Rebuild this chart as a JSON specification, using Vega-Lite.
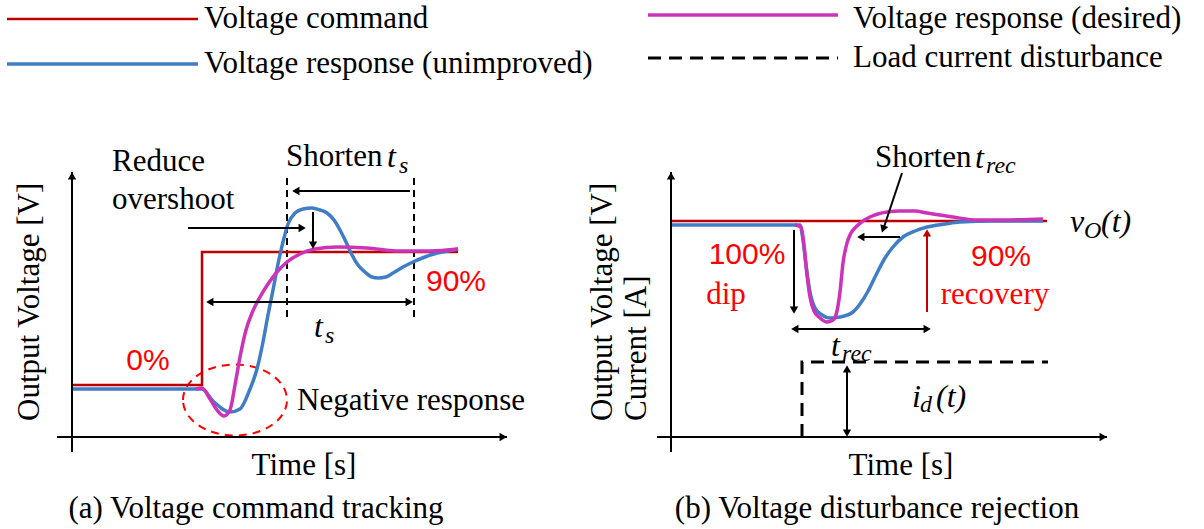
{
  "$schema": "https://vega.github.io/schema/vega-lite/v6.json",
  "width": 1204,
  "height": 529,
  "autosize": {"type": "fit", "contains": "padding"},
  "padding": 0,
  "background": "white",
  "config": {"view": {"stroke": null}},
  "datasets": {
    "traces": [
      {"trace": "command", "part": "legend", "k": 0, "x": 7, "y": 19},
      {"trace": "command", "part": "legend", "k": 1, "x": 198, "y": 19},
      {"trace": "command", "part": "a", "k": 0, "x": 72, "y": 385},
      {"trace": "command", "part": "a", "k": 1, "x": 202, "y": 385},
      {"trace": "command", "part": "a", "k": 2, "x": 202, "y": 252},
      {"trace": "command", "part": "a", "k": 3, "x": 458, "y": 252},
      {"trace": "command", "part": "b", "k": 0, "x": 671, "y": 221},
      {"trace": "command", "part": "b", "k": 1, "x": 1047, "y": 221},

      {"trace": "unimproved", "part": "legend", "k": 0, "x": 7, "y": 64},
      {"trace": "unimproved", "part": "legend", "k": 1, "x": 198, "y": 64},
      {"trace": "unimproved", "part": "a", "k": 0, "x": 72, "y": 389},
      {"trace": "unimproved", "part": "a", "k": 1, "x": 202, "y": 389},
      {"trace": "unimproved", "part": "a", "k": 2, "x": 213, "y": 401},
      {"trace": "unimproved", "part": "a", "k": 3, "x": 230, "y": 412},
      {"trace": "unimproved", "part": "a", "k": 4, "x": 240, "y": 409},
      {"trace": "unimproved", "part": "a", "k": 5, "x": 250, "y": 389},
      {"trace": "unimproved", "part": "a", "k": 6, "x": 257, "y": 369},
      {"trace": "unimproved", "part": "a", "k": 7, "x": 263, "y": 342},
      {"trace": "unimproved", "part": "a", "k": 8, "x": 268, "y": 315},
      {"trace": "unimproved", "part": "a", "k": 9, "x": 273, "y": 290},
      {"trace": "unimproved", "part": "a", "k": 10, "x": 278, "y": 264},
      {"trace": "unimproved", "part": "a", "k": 11, "x": 283, "y": 242},
      {"trace": "unimproved", "part": "a", "k": 12, "x": 288, "y": 224},
      {"trace": "unimproved", "part": "a", "k": 13, "x": 295, "y": 213},
      {"trace": "unimproved", "part": "a", "k": 14, "x": 303, "y": 209},
      {"trace": "unimproved", "part": "a", "k": 15, "x": 312, "y": 208},
      {"trace": "unimproved", "part": "a", "k": 16, "x": 320, "y": 210},
      {"trace": "unimproved", "part": "a", "k": 17, "x": 327, "y": 213},
      {"trace": "unimproved", "part": "a", "k": 18, "x": 334, "y": 220},
      {"trace": "unimproved", "part": "a", "k": 19, "x": 340, "y": 230},
      {"trace": "unimproved", "part": "a", "k": 20, "x": 346, "y": 242},
      {"trace": "unimproved", "part": "a", "k": 21, "x": 352, "y": 255},
      {"trace": "unimproved", "part": "a", "k": 22, "x": 358, "y": 265},
      {"trace": "unimproved", "part": "a", "k": 23, "x": 365, "y": 272},
      {"trace": "unimproved", "part": "a", "k": 24, "x": 372, "y": 277},
      {"trace": "unimproved", "part": "a", "k": 25, "x": 378, "y": 278},
      {"trace": "unimproved", "part": "a", "k": 26, "x": 386, "y": 277},
      {"trace": "unimproved", "part": "a", "k": 27, "x": 393, "y": 273},
      {"trace": "unimproved", "part": "a", "k": 28, "x": 403, "y": 267},
      {"trace": "unimproved", "part": "a", "k": 29, "x": 413, "y": 262},
      {"trace": "unimproved", "part": "a", "k": 30, "x": 425, "y": 257},
      {"trace": "unimproved", "part": "a", "k": 31, "x": 437, "y": 253},
      {"trace": "unimproved", "part": "a", "k": 32, "x": 448, "y": 251},
      {"trace": "unimproved", "part": "a", "k": 33, "x": 458, "y": 249},
      {"trace": "unimproved", "part": "b", "k": 0, "x": 671, "y": 225},
      {"trace": "unimproved", "part": "b", "k": 1, "x": 800, "y": 225},
      {"trace": "unimproved", "part": "b", "k": 2, "x": 803, "y": 240},
      {"trace": "unimproved", "part": "b", "k": 3, "x": 806, "y": 265},
      {"trace": "unimproved", "part": "b", "k": 4, "x": 810, "y": 292},
      {"trace": "unimproved", "part": "b", "k": 5, "x": 815, "y": 308},
      {"trace": "unimproved", "part": "b", "k": 6, "x": 822, "y": 315},
      {"trace": "unimproved", "part": "b", "k": 7, "x": 830, "y": 318},
      {"trace": "unimproved", "part": "b", "k": 8, "x": 840, "y": 317},
      {"trace": "unimproved", "part": "b", "k": 9, "x": 853, "y": 312},
      {"trace": "unimproved", "part": "b", "k": 10, "x": 860, "y": 304},
      {"trace": "unimproved", "part": "b", "k": 11, "x": 867, "y": 293},
      {"trace": "unimproved", "part": "b", "k": 12, "x": 877, "y": 273},
      {"trace": "unimproved", "part": "b", "k": 13, "x": 885, "y": 258},
      {"trace": "unimproved", "part": "b", "k": 14, "x": 893, "y": 247},
      {"trace": "unimproved", "part": "b", "k": 15, "x": 903, "y": 237},
      {"trace": "unimproved", "part": "b", "k": 16, "x": 915, "y": 231},
      {"trace": "unimproved", "part": "b", "k": 17, "x": 927, "y": 227},
      {"trace": "unimproved", "part": "b", "k": 18, "x": 945, "y": 224},
      {"trace": "unimproved", "part": "b", "k": 19, "x": 960, "y": 222},
      {"trace": "unimproved", "part": "b", "k": 20, "x": 993, "y": 221},
      {"trace": "unimproved", "part": "b", "k": 21, "x": 1043, "y": 221},

      {"trace": "desired", "part": "legend", "k": 0, "x": 648, "y": 15},
      {"trace": "desired", "part": "legend", "k": 1, "x": 838, "y": 15},
      {"trace": "desired", "part": "a", "k": 0, "x": 196, "y": 389},
      {"trace": "desired", "part": "a", "k": 1, "x": 202, "y": 388},
      {"trace": "desired", "part": "a", "k": 2, "x": 210, "y": 399},
      {"trace": "desired", "part": "a", "k": 3, "x": 217, "y": 410},
      {"trace": "desired", "part": "a", "k": 4, "x": 224, "y": 416},
      {"trace": "desired", "part": "a", "k": 5, "x": 230, "y": 410},
      {"trace": "desired", "part": "a", "k": 6, "x": 235, "y": 385},
      {"trace": "desired", "part": "a", "k": 7, "x": 240, "y": 357},
      {"trace": "desired", "part": "a", "k": 8, "x": 246, "y": 330},
      {"trace": "desired", "part": "a", "k": 9, "x": 252, "y": 313},
      {"trace": "desired", "part": "a", "k": 10, "x": 260, "y": 297},
      {"trace": "desired", "part": "a", "k": 11, "x": 268, "y": 284},
      {"trace": "desired", "part": "a", "k": 12, "x": 277, "y": 272},
      {"trace": "desired", "part": "a", "k": 13, "x": 287, "y": 262},
      {"trace": "desired", "part": "a", "k": 14, "x": 300, "y": 254},
      {"trace": "desired", "part": "a", "k": 15, "x": 315, "y": 249},
      {"trace": "desired", "part": "a", "k": 16, "x": 337, "y": 247},
      {"trace": "desired", "part": "a", "k": 17, "x": 367, "y": 248},
      {"trace": "desired", "part": "a", "k": 18, "x": 400, "y": 251},
      {"trace": "desired", "part": "a", "k": 19, "x": 430, "y": 251},
      {"trace": "desired", "part": "a", "k": 20, "x": 458, "y": 249},
      {"trace": "desired", "part": "b", "k": 0, "x": 795, "y": 225},
      {"trace": "desired", "part": "b", "k": 1, "x": 801, "y": 227},
      {"trace": "desired", "part": "b", "k": 2, "x": 804, "y": 245},
      {"trace": "desired", "part": "b", "k": 3, "x": 807, "y": 275},
      {"trace": "desired", "part": "b", "k": 4, "x": 810, "y": 297},
      {"trace": "desired", "part": "b", "k": 5, "x": 814, "y": 311},
      {"trace": "desired", "part": "b", "k": 6, "x": 820, "y": 318},
      {"trace": "desired", "part": "b", "k": 7, "x": 827, "y": 322},
      {"trace": "desired", "part": "b", "k": 8, "x": 833, "y": 320},
      {"trace": "desired", "part": "b", "k": 9, "x": 837, "y": 311},
      {"trace": "desired", "part": "b", "k": 10, "x": 840, "y": 292},
      {"trace": "desired", "part": "b", "k": 11, "x": 843, "y": 263},
      {"trace": "desired", "part": "b", "k": 12, "x": 847, "y": 243},
      {"trace": "desired", "part": "b", "k": 13, "x": 851, "y": 233},
      {"trace": "desired", "part": "b", "k": 14, "x": 857, "y": 226},
      {"trace": "desired", "part": "b", "k": 15, "x": 863, "y": 221},
      {"trace": "desired", "part": "b", "k": 16, "x": 870, "y": 217},
      {"trace": "desired", "part": "b", "k": 17, "x": 887, "y": 212},
      {"trace": "desired", "part": "b", "k": 18, "x": 900, "y": 211},
      {"trace": "desired", "part": "b", "k": 19, "x": 915, "y": 211},
      {"trace": "desired", "part": "b", "k": 20, "x": 927, "y": 213},
      {"trace": "desired", "part": "b", "k": 21, "x": 953, "y": 217},
      {"trace": "desired", "part": "b", "k": 22, "x": 977, "y": 220},
      {"trace": "desired", "part": "b", "k": 23, "x": 1000, "y": 220},
      {"trace": "desired", "part": "b", "k": 24, "x": 1043, "y": 219},

      {"trace": "disturbance", "part": "legend", "k": 0, "x": 648, "y": 58},
      {"trace": "disturbance", "part": "legend", "k": 1, "x": 838, "y": 58},
      {"trace": "disturbance", "part": "b", "k": 0, "x": 802, "y": 437},
      {"trace": "disturbance", "part": "b", "k": 1, "x": 802, "y": 362},
      {"trace": "disturbance", "part": "b", "k": 2, "x": 1048, "y": 362}
    ],
    "arrowShafts": [
      {"x": 72, "y": 452, "x2": 72, "y2": 172},
      {"x": 57, "y": 437, "x2": 507, "y2": 437},
      {"x": 671, "y": 452, "x2": 671, "y2": 172},
      {"x": 657, "y": 437, "x2": 1107, "y2": 437},
      {"x": 188, "y": 228, "x2": 303, "y2": 228},
      {"x": 410, "y": 191, "x2": 295, "y2": 191},
      {"x": 313, "y": 212, "x2": 313, "y2": 246},
      {"x": 209, "y": 302, "x2": 410, "y2": 302},
      {"x": 794, "y": 230, "x2": 794, "y2": 311},
      {"x": 794, "y": 329, "x2": 928, "y2": 329},
      {"x": 900, "y": 237, "x2": 860, "y2": 237},
      {"x": 902, "y": 173, "x2": 883, "y2": 230},
      {"x": 847, "y": 368, "x2": 847, "y2": 434}
    ],
    "arrowHeads": [
      {"x": 72, "y": 177, "heading": 0},
      {"x": 502, "y": 437, "heading": 90},
      {"x": 671, "y": 177, "heading": 0},
      {"x": 1102, "y": 437, "heading": 90},
      {"x": 301, "y": 228, "heading": 90},
      {"x": 297, "y": 191, "heading": 270},
      {"x": 313, "y": 244, "heading": 180},
      {"x": 211, "y": 302, "heading": 270},
      {"x": 408, "y": 302, "heading": 90},
      {"x": 794, "y": 309, "heading": 180},
      {"x": 796, "y": 329, "heading": 270},
      {"x": 926, "y": 329, "heading": 90},
      {"x": 862, "y": 237, "heading": 270},
      {"x": 883.5, "y": 228, "heading": 199},
      {"x": 847, "y": 370, "heading": 0},
      {"x": 847, "y": 432, "heading": 180}
    ],
    "recoveryShaft": [{"x": 927, "y": 312, "x2": 927, "y2": 232}],
    "recoveryHead": [{"x": 927, "y": 234, "heading": 0}],
    "settlingGuides": [
      {"x": 287, "y": 178, "x2": 287, "y2": 319},
      {"x": 414, "y": 178, "x2": 414, "y2": 319}
    ],
    "dipRegion": [{"x": 235, "y": 400}],
    "plainLeft": [
      {"x": 204, "y": 19, "text": "Voltage command"},
      {"x": 204, "y": 64, "text": "Voltage response (unimproved)"},
      {"x": 853, "y": 19, "text": "Voltage response (desired)"},
      {"x": 853, "y": 58, "text": "Load current disturbance"},
      {"x": 112, "y": 162, "text": "Reduce"},
      {"x": 112, "y": 200, "text": "overshoot"},
      {"x": 286, "y": 157, "text": "Shorten"},
      {"x": 875, "y": 158, "text": "Shorten"},
      {"x": 297, "y": 401, "text": "Negative response"}
    ],
    "plainCenter": [
      {"x": 304, "y": 466, "text": "Time [s]"},
      {"x": 901, "y": 466, "text": "Time [s]"},
      {"x": 256, "y": 509, "text": "(a) Voltage command tracking"},
      {"x": 877, "y": 509, "text": "(b) Voltage disturbance rejection"}
    ],
    "axisTitles": [
      {"x": 30, "y": 421, "text": "Output Voltage [V]"},
      {"x": 603, "y": 421, "text": "Output Voltage [V]"},
      {"x": 637, "y": 421, "text": "Current [A]"}
    ],
    "percentLabels": [
      {"x": 148, "y": 361, "text": "0%"},
      {"x": 456, "y": 282, "text": "90%"},
      {"x": 747, "y": 255, "text": "100%"},
      {"x": 1001, "y": 257, "text": "90%"}
    ],
    "redWords": [
      {"x": 726, "y": 295, "text": "dip"},
      {"x": 995, "y": 295, "text": "recovery"}
    ],
    "mathMain": [
      {"x": 387, "y": 157, "text": "t"},
      {"x": 314, "y": 327, "text": "t"},
      {"x": 975, "y": 158, "text": "t"},
      {"x": 831, "y": 346, "text": "t"},
      {"x": 1070, "y": 222, "text": "v"},
      {"x": 1101, "y": 222, "text": "(t)"},
      {"x": 912, "y": 397, "text": "i"},
      {"x": 936, "y": 397, "text": "(t)"}
    ],
    "mathSub": [
      {"x": 399, "y": 166, "text": "s"},
      {"x": 325, "y": 336, "text": "s"},
      {"x": 986, "y": 166, "text": "rec"},
      {"x": 842, "y": 354, "text": "rec"},
      {"x": 1084, "y": 231, "text": "O"},
      {"x": 920, "y": 405, "text": "d"}
    ]
  },
  "encoding": {
    "x": {"field": "x", "type": "quantitative", "scale": {"domain": [0, 1204], "nice": false, "zero": false}, "axis": null},
    "y": {"field": "y", "type": "quantitative", "scale": {"domain": [0, 529], "reverse": true, "nice": false, "zero": false}, "axis": null}
  },
  "layer": [
    {
      "data": {"name": "settlingGuides"},
      "mark": {"type": "rule", "color": "black", "strokeWidth": 2, "strokeDash": [7, 5]},
      "encoding": {"x2": {"field": "x2"}, "y2": {"field": "y2"}}
    },
    {
      "data": {"name": "dipRegion"},
      "mark": {
        "type": "point",
        "shape": "M-1,0C-1,-0.377,-0.552,-0.683,0,-0.683C0.552,-0.683,1,-0.377,1,0C1,0.377,0.552,0.683,0,0.683C-0.552,0.683,-1,0.377,-1,0Z",
        "size": 10816,
        "filled": false,
        "stroke": "#FF0000",
        "strokeWidth": 2,
        "strokeDash": [8, 6],
        "opacity": 1
      },
      "encoding": {}
    },
    {
      "data": {"name": "traces"},
      "transform": [{"filter": "datum.trace == 'command'"}],
      "mark": {"type": "line", "color": "#C00000", "strokeWidth": 2.5, "interpolate": "linear"},
      "encoding": {"order": {"field": "k", "type": "quantitative"}, "detail": {"field": "part"}}
    },
    {
      "data": {"name": "traces"},
      "transform": [{"filter": "datum.trace == 'unimproved'"}],
      "mark": {"type": "line", "color": "#3F7DC6", "strokeWidth": 3.5, "interpolate": "monotone"},
      "encoding": {"order": {"field": "k", "type": "quantitative"}, "detail": {"field": "part"}}
    },
    {
      "data": {"name": "traces"},
      "transform": [{"filter": "datum.trace == 'desired'"}],
      "mark": {"type": "line", "color": "#CC33B8", "strokeWidth": 3.5, "interpolate": "monotone"},
      "encoding": {"order": {"field": "k", "type": "quantitative"}, "detail": {"field": "part"}}
    },
    {
      "data": {"name": "traces"},
      "transform": [{"filter": "datum.trace == 'disturbance'"}],
      "mark": {"type": "line", "color": "black", "strokeWidth": 3, "strokeDash": [13, 8], "interpolate": "linear"},
      "encoding": {"order": {"field": "k", "type": "quantitative"}, "detail": {"field": "part"}}
    },
    {
      "data": {"name": "arrowShafts"},
      "mark": {"type": "rule", "color": "black", "strokeWidth": 2},
      "encoding": {"x2": {"field": "x2"}, "y2": {"field": "y2"}}
    },
    {
      "data": {"name": "arrowHeads"},
      "mark": {"type": "point", "shape": "triangle", "filled": true, "color": "black", "size": 70, "opacity": 1},
      "encoding": {"angle": {"field": "heading", "type": "quantitative", "scale": null}}
    },
    {
      "data": {"name": "recoveryShaft"},
      "mark": {"type": "rule", "color": "#C00000", "strokeWidth": 2},
      "encoding": {"x2": {"field": "x2"}, "y2": {"field": "y2"}}
    },
    {
      "data": {"name": "recoveryHead"},
      "mark": {"type": "point", "shape": "triangle", "filled": true, "color": "#C00000", "size": 70, "opacity": 1},
      "encoding": {"angle": {"field": "heading", "type": "quantitative", "scale": null}}
    },
    {
      "data": {"name": "plainLeft"},
      "mark": {"type": "text", "font": "Liberation Serif, Times New Roman, serif", "fontSize": 31, "color": "black", "align": "left", "baseline": "middle"},
      "encoding": {"text": {"field": "text"}}
    },
    {
      "data": {"name": "plainCenter"},
      "mark": {"type": "text", "font": "Liberation Serif, Times New Roman, serif", "fontSize": 31, "color": "black", "align": "center", "baseline": "middle"},
      "encoding": {"text": {"field": "text"}}
    },
    {
      "data": {"name": "axisTitles"},
      "mark": {"type": "text", "font": "Liberation Serif, Times New Roman, serif", "fontSize": 31, "color": "black", "align": "left", "baseline": "middle", "angle": 270},
      "encoding": {"text": {"field": "text"}}
    },
    {
      "data": {"name": "percentLabels"},
      "mark": {"type": "text", "font": "Liberation Sans, Arial, sans-serif", "fontSize": 30, "color": "#FF0000", "align": "center", "baseline": "middle"},
      "encoding": {"text": {"field": "text"}}
    },
    {
      "data": {"name": "redWords"},
      "mark": {"type": "text", "font": "Liberation Serif, Times New Roman, serif", "fontSize": 31, "color": "#FF0000", "align": "center", "baseline": "middle"},
      "encoding": {"text": {"field": "text"}}
    },
    {
      "data": {"name": "mathMain"},
      "mark": {"type": "text", "font": "Liberation Serif, Times New Roman, serif", "fontStyle": "italic", "fontSize": 32, "color": "black", "align": "left", "baseline": "middle"},
      "encoding": {"text": {"field": "text"}}
    },
    {
      "data": {"name": "mathSub"},
      "mark": {"type": "text", "font": "Liberation Serif, Times New Roman, serif", "fontStyle": "italic", "fontSize": 24, "color": "black", "align": "left", "baseline": "middle"},
      "encoding": {"text": {"field": "text"}}
    }
  ]
}
